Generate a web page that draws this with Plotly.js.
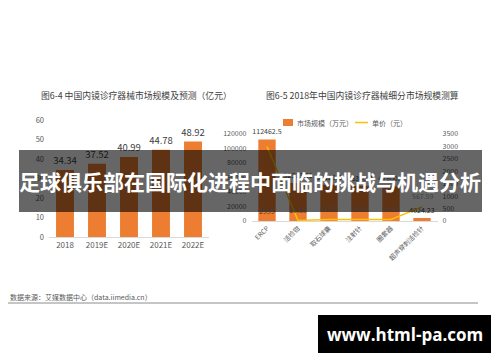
<!DOCTYPE html>
<html><head><meta charset="utf-8">
<script src="https://cdn.plot.ly/plotly-3.0.1.min.js"></script>
<style>html,body{margin:0;padding:0;background:#fff}#c{width:500px;height:362px}</style>
</head><body><div id="c"></div>
<script>
// Left chart: market size and forecast (亿元)
var years = ['2018','2019E','2020E','2021E','2022E'];
var marketSize = [34.34, 37.52, 40.99, 44.78, 48.92];
// Right chart: segment market size (万元) and unit price (元)
var segments = ['ERCP','活检钳','取石球囊','注射针','圈套器','超声穿刺活检针'];
var segmentSize = [112462.5, 52303.41, 50120.6, 48300.2, 47800.5, 4024.23];
var unitPrice = [2999, 19.55, 65.33, 59.04, 58.93, 567.59];
var legendNames = ['市场规模（万元）', '单价（元）'];

var FONT = '"Noto Sans CJK SC", "Noto Sans", sans-serif';
var ORANGE = '#ED7D31', GOLD = '#FFC000', GREY = '#595959';
function px(x){return x/500;} function py(y){return 1-y/362;}

var traces = [
  {type:'bar', x:years, y:marketSize, xaxis:'x', yaxis:'y', marker:{color:ORANGE},
   text:marketSize.map(function(v){return v.toFixed(2);}), textposition:'outside', constraintext:'none',
   textfont:{size:9.5, color:'#404040', family:FONT}, cliponaxis:false, showlegend:false, hoverinfo:'none'},
  {type:'bar', x:segments, y:segmentSize, xaxis:'x2', yaxis:'y3', name:legendNames[0],
   marker:{color:ORANGE}, text:segmentSize.map(String), textposition:'outside', constraintext:'none',
   textfont:{size:7, color:'#404040', family:FONT}, cliponaxis:false, showlegend:false, hoverinfo:'none'},
  {type:'scatter', mode:'lines', x:segments, y:unitPrice, xaxis:'x2', yaxis:'y4', name:legendNames[1],
   line:{color:GOLD, width:1.5}, cliponaxis:false, showlegend:false, hoverinfo:'none'}
];

function note(x, y, text, size, color, anchor, family){
  return {xref:'paper', yref:'paper', x:px(x), y:py(y), xanchor:anchor||'center', yanchor:'middle',
    text:text, showarrow:false, font:{size:size, color:color, family:family||FONT}};
}
var annotations = [
  note(136, 95, '图6-4 中国内镜诊疗器械市场规模及预测（亿元）', 8.8, '#404040'),
  note(362, 95, '图6-5 2018年中国内镜诊疗器械细分市场规模测算', 8.8, '#404040'),
  note(8, 297, '数据来源：艾媒数据中心（data.iimedia.cn）', 7, GREY, 'left'),
  note(295, 122.5, legendNames[0], 7, GREY, 'left'),
  note(370, 122.5, legendNames[1], 7, GREY, 'left'),
  note(250, 181, '<b>足球俱乐部在国际化进程中面临的挑战与机遇分析</b>', 21, '#ffffff'),
  note(404.5, 334, '<b>www.html-pa.com</b>', 17, '#ffffff', 'center', '"Open Sans", "DejaVu Sans", sans-serif')
];
segments.forEach(function(s,i){
  annotations.push({xref:'x2', yref:'y4', x:s, y:(i===0?0:unitPrice[i]), xanchor:'center', yanchor:'bottom', yshift:(i===0?3:4),
    text:String(unitPrice[i]), showarrow:false, font:{size:7, color:'#404040', family:FONT}});
});

var layout = {
  width:500, height:362, margin:{l:0,r:0,t:0,b:0}, paper_bgcolor:'#fff', plot_bgcolor:'rgba(0,0,0,0)',
  font:{family:FONT, color:GREY},
  bargap:0.44, showlegend:false,
  xaxis:{domain:[px(49), px(209)], anchor:'y', showline:true, linecolor:'#d9d9d9', linewidth:1,
    ticks:'', tickfont:{size:8, color:GREY}},
  yaxis:{domain:[py(237), py(120)], anchor:'x', range:[0,60], dtick:10, showgrid:false, zeroline:false,
    tickfont:{size:7.5, color:GREY}, ticklabelstandoff:4},
  xaxis2:{domain:[px(251.5), px(437.5)], anchor:'y3', showline:true, linecolor:'#d9d9d9', linewidth:1,
    ticks:'', tickangle:-45, tickfont:{size:6.5, color:GREY}},
  yaxis3:{domain:[py(221), py(134)], anchor:'x2', range:[0,120000], dtick:20000, showgrid:false, zeroline:false,
    tickformat:'d', tickfont:{size:7, color:GREY}, ticklabelstandoff:4},
  yaxis4:{domain:[py(221), py(134)], anchor:'x2', overlaying:'y3', side:'right', range:[0,3500], dtick:500,
    tickformat:'d', showgrid:false, zeroline:false, tickfont:{size:7, color:GREY}, ticklabelstandoff:4},
  shapes:[
    {type:'rect', xref:'paper', yref:'paper', x0:px(283), x1:px(293), y0:py(126), y1:py(119),
     fillcolor:ORANGE, line:{width:0}},
    {type:'line', xref:'paper', yref:'paper', x0:px(355), x1:px(368), y0:py(122.5), y1:py(122.5),
     line:{color:GOLD, width:1.5}},
    {type:'line', xref:'paper', yref:'paper', x0:px(8), x1:px(478), y0:py(303), y1:py(303),
     line:{color:'#8c8c8c', width:1}},
    {type:'rect', xref:'paper', yref:'paper', x0:px(19), x1:px(482), y0:py(212), y1:py(150),
     fillcolor:'rgba(0,0,0,0.6)', line:{width:0}, layer:'above'},
    {type:'rect', xref:'paper', yref:'paper', x0:px(318), x1:px(491), y0:py(353), y1:py(315),
     fillcolor:'#000', line:{width:0}, layer:'above'}
  ],
  annotations:annotations
};
Plotly.newPlot('c', traces, layout, {staticPlot:true, displayModeBar:false});
</script></body></html>
